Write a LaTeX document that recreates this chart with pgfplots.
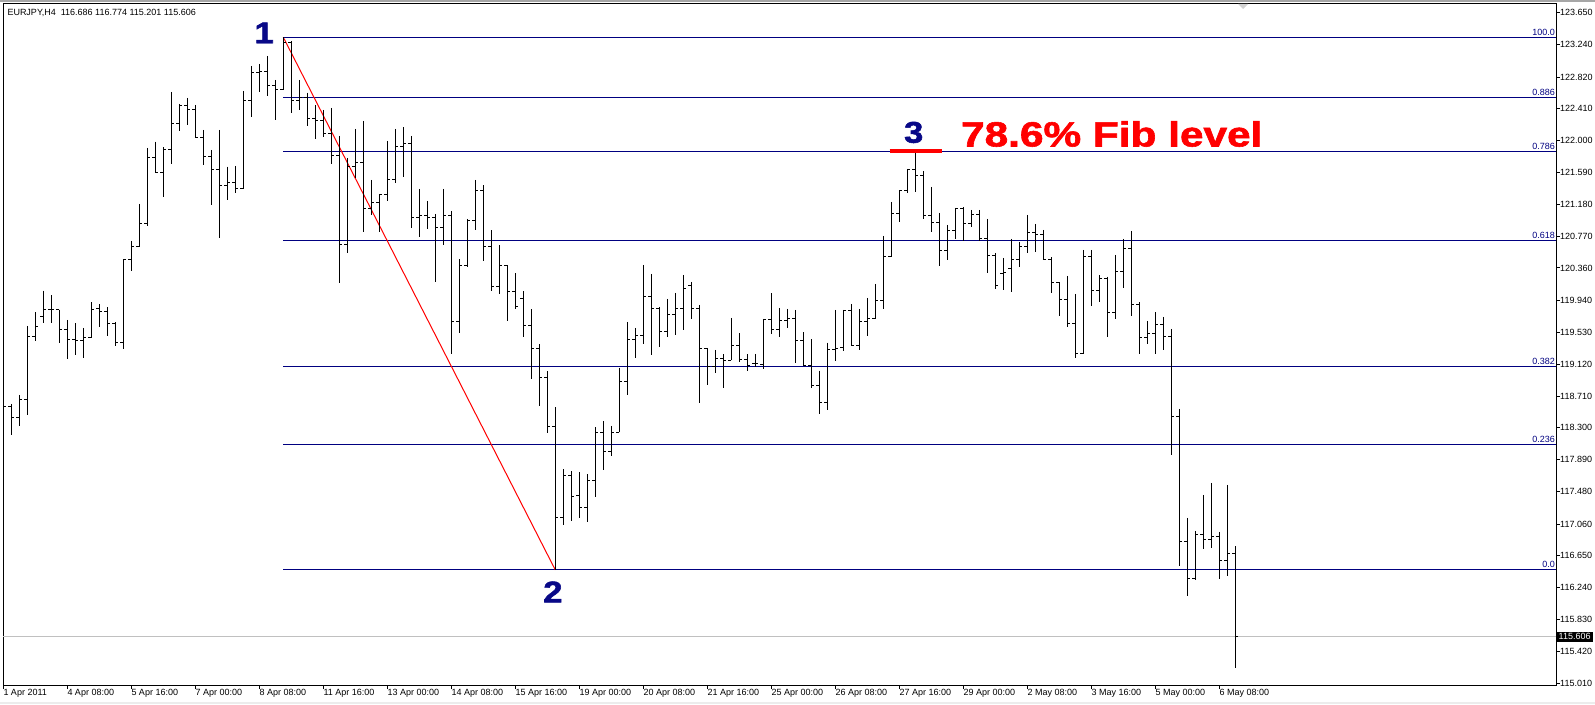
\documentclass[border=0pt]{standalone}
\usepackage{fontspec}
\setmainfont{Liberation Sans}
\newfontfamily\heavyfont{Liberation Sans}[UprightFont={* Bold}, FakeBold=1.6]
\usepackage{graphicx}
\usepackage{pgfplots}
\usepackage{pgfplotstable}
\pgfplotsset{compat=1.18}

\definecolor{fibnavy}{RGB}{0,0,128}
\definecolor{lblnavy}{RGB}{8,8,135}
\definecolor{pricegray}{RGB}{192,192,192}

% EURJPY H4 bars: index, open, high, low, close
\pgfplotstableread{
i o h l c
0 118.315 118.668 118.037 118.573
1 118.573 118.608 118.208 118.436
2 118.436 118.724 118.328 118.668
3 118.668 119.613 118.470 119.471
4 119.471 119.790 119.424 119.604
5 119.733 120.068 119.648 119.819
6 119.819 120.009 119.648 119.819
7 119.819 119.819 119.398 119.561
8 119.561 119.690 119.184 119.442
9 119.442 119.648 119.235 119.424
10 119.424 119.587 119.205 119.458
11 119.458 119.918 119.458 119.828
12 119.841 119.893 119.596 119.802
13 119.802 119.854 119.488 119.639
14 119.648 119.661 119.355 119.403
15 119.403 120.464 119.320 120.464
16 120.464 120.708 120.326 120.635
17 120.635 121.185 120.627 120.936
18 120.936 121.907 120.906 121.787
19 121.787 121.988 121.589 121.589
20 121.589 121.916 121.279 121.881
21 121.881 122.628 121.705 122.216
22 122.216 122.474 122.130 122.448
23 122.448 122.551 122.207 122.406
24 122.406 122.461 122.032 122.045
25 122.045 122.139 121.688 121.791
26 121.791 121.881 121.172 121.632
27 121.632 122.139 120.751 121.421
28 121.421 121.666 121.237 121.465
29 121.465 121.675 121.331 121.382
30 121.382 122.641 121.375 122.522
31 122.522 122.964 122.310 122.882
32 122.882 122.989 122.632 122.895
33 122.895 123.092 122.577 122.715
34 122.715 122.783 122.268 122.663
35 122.663 123.333 122.654 123.269
36 123.269 123.286 122.362 122.512
37 122.512 122.783 122.397 122.555
38 122.555 122.619 122.190 122.284
39 122.284 122.461 122.027 122.255
40 122.255 122.397 122.052 122.096
41 122.096 122.422 121.701 121.813
42 121.813 122.061 120.163 120.666
43 120.666 121.778 120.550 121.662
44 121.662 122.152 121.516 121.723
45 121.723 122.255 120.828 121.130
46 121.130 121.494 121.043 121.207
47 121.207 121.314 120.820 121.301
48 121.301 121.997 121.228 121.503
49 121.503 122.152 121.460 121.924
50 121.924 122.174 121.527 121.967
51 121.967 122.061 120.880 121.014
52 121.014 121.378 120.764 121.040
53 121.040 121.224 120.867 121.014
54 121.014 121.056 120.184 120.885
55 120.885 121.378 120.661 121.040
56 121.040 121.095 119.252 119.665
57 119.665 120.473 119.527 120.395
58 120.395 120.992 120.369 120.966
59 120.966 121.494 120.850 121.353
60 121.353 121.426 120.455 120.640
61 120.640 120.846 120.068 120.125
62 120.125 120.653 120.029 120.395
63 120.395 120.395 119.681 120.060
64 120.060 120.292 119.828 119.867
65 119.970 120.060 119.475 119.622
66 119.622 119.828 118.926 119.326
67 119.326 119.377 118.586 118.952
68 118.952 119.029 118.230 118.320
69 118.320 118.565 116.469 117.139
70 117.139 117.766 117.045 117.689
71 117.689 117.741 117.096 117.418
72 117.431 117.728 117.135 117.268
73 117.268 117.702 117.083 117.616
74 117.616 118.308 117.406 118.234
75 118.234 118.385 117.753 117.996
76 117.996 118.324 117.942 118.243
77 118.243 119.076 118.243 118.895
78 118.895 119.665 118.724 119.442
79 119.442 119.587 119.205 119.493
80 119.493 120.399 119.381 119.987
81 119.987 120.283 119.239 119.841
82 119.841 119.858 119.346 119.545
83 119.545 119.961 119.475 119.764
84 119.764 120.038 119.497 119.832
85 119.832 120.270 119.561 120.099
86 120.138 120.180 119.703 119.841
87 119.841 119.884 118.625 119.326
88 119.326 119.326 118.853 119.094
89 119.094 119.304 119.003 119.197
90 119.197 119.248 118.818 119.171
91 119.171 119.716 119.171 119.364
92 119.364 119.519 119.149 119.184
93 119.184 119.248 119.037 119.107
94 119.123 119.252 119.081 119.132
95 119.119 119.703 119.055 119.690
96 119.690 120.034 119.510 119.570
97 119.570 119.845 119.475 119.686
98 119.686 119.832 119.583 119.712
99 119.712 119.819 119.140 119.429
100 119.429 119.532 119.101 119.107
101 119.107 119.442 118.808 118.840
102 118.840 119.037 118.479 118.630
103 118.630 119.398 118.531 119.304
104 119.313 119.819 119.166 119.320
105 119.333 119.819 119.295 119.806
106 119.806 119.897 119.364 119.364
107 119.364 119.832 119.308 119.665
108 119.665 119.974 119.488 119.707
109 119.707 120.154 119.707 119.944
110 119.944 120.773 119.836 120.502
111 120.502 121.211 120.502 121.065
112 121.065 121.353 120.953 121.353
113 121.353 121.636 121.327 121.623
114 121.623 121.839 121.340 121.546
115 121.546 121.610 120.992 121.031
116 121.031 121.404 120.824 120.940
117 120.940 121.069 120.386 120.580
118 120.580 120.915 120.464 120.837
119 120.837 121.134 120.734 121.121
120 121.121 121.147 120.705 120.936
121 120.936 121.108 120.893 121.052
122 121.052 121.108 120.705 120.734
123 120.734 120.992 120.296 120.515
124 120.515 120.554 120.090 120.128
125 120.292 120.489 120.073 120.296
126 120.348 120.734 120.051 120.473
127 120.473 120.699 120.377 120.635
128 120.635 121.043 120.558 120.820
129 120.820 120.927 120.570 120.786
130 120.786 120.850 120.464 120.473
131 120.473 120.498 120.042 120.176
132 120.176 120.176 119.746 119.957
133 119.957 120.257 119.596 119.648
134 119.648 120.025 119.205 119.256
135 119.256 120.592 119.248 120.511
136 120.511 120.592 119.875 120.073
137 120.073 120.266 119.926 120.228
138 120.228 120.248 119.475 119.790
139 119.790 120.528 119.699 120.309
140 120.309 120.734 120.107 120.614
141 120.614 120.837 119.742 119.893
142 119.893 119.918 119.256 119.467
143 119.467 119.677 119.381 119.519
144 119.519 119.790 119.256 119.635
145 119.635 119.729 119.304 119.480
146 119.480 119.574 117.954 118.449
147 118.449 118.543 116.524 116.839
148 116.839 117.139 116.138 116.357
149 116.357 116.971 116.344 116.920
150 116.920 117.435 116.743 116.864
151 116.864 117.590 116.756 116.903
152 116.903 116.958 116.349 116.585
153 116.585 117.564 116.395 116.686
154 116.686 116.774 115.201 115.606
}\eurjpy

\newcommand{\mtfont}{\fontsize{9}{10}\selectfont}

\begin{document}
\begin{tikzpicture}
\useasboundingbox (0,0) rectangle (1595pt,704pt);
\fill[gray!70] (0,702pt) rectangle (1595pt,704pt);
\fill[gray!15] (0,0) rectangle (1595pt,2pt);
\begin{axis}[
    at={(3pt,19pt)}, anchor=south west,
    scale only axis, width=1553pt, height=681pt,
    xmin=-0.0375, xmax=194.0875,
    ymin=114.986, ymax=123.762,
    axis line style={line width=1pt},
    tick align=outside, major tick length=4pt,
    tick style={black, line width=1pt},
    xtick pos=left, ytick pos=right, yticklabel pos=right,
    xtick={0,8,...,152},
    xticklabels={1 Apr 2011, 4 Apr 08:00, 5 Apr 16:00, 7 Apr 00:00, 8 Apr 08:00,
        11 Apr 16:00, 13 Apr 00:00, 14 Apr 08:00, 15 Apr 16:00, 19 Apr 00:00,
        20 Apr 08:00, 21 Apr 16:00, 25 Apr 00:00, 26 Apr 08:00, 27 Apr 16:00,
        29 Apr 00:00, 2 May 08:00, 3 May 16:00, 5 May 00:00, 6 May 08:00},
    ytick={123.650,123.240,122.820,122.410,122.000,121.590,121.180,120.770,
        120.360,119.940,119.530,119.120,118.710,118.300,117.890,117.480,
        117.060,116.650,116.240,115.830,115.420,115.010},
    tick label style={font=\mtfont},
    /pgf/number format/assume math mode=true,
    xticklabel style={anchor=north west, inner sep=0pt},
    yticklabel style={anchor=west, inner sep=0pt,
        /pgf/number format/fixed, /pgf/number format/fixed zerofill,
        /pgf/number format/precision=3, /pgf/number format/1000 sep={}},
    clip mode=individual,
]
% current price line
\addplot[pricegray, line width=1pt, mark=none] coordinates {(-0.0375,115.606) (194.0875,115.606)};

% fibonacci levels from bar 35 high to bar 69 low
\addplot[fibnavy, line width=1pt, mark=none] coordinates {(35,123.333) (194.0875,123.333)};
\addplot[fibnavy, line width=1pt, mark=none] coordinates {(35,122.551) (194.0875,122.551)};
\addplot[fibnavy, line width=1pt, mark=none] coordinates {(35,121.864) (194.0875,121.864)};
\addplot[fibnavy, line width=1pt, mark=none] coordinates {(35,120.711) (194.0875,120.711)};
\addplot[fibnavy, line width=1pt, mark=none] coordinates {(35,119.091) (194.0875,119.091)};
\addplot[fibnavy, line width=1pt, mark=none] coordinates {(35,118.089) (194.0875,118.089)};
\addplot[fibnavy, line width=1pt, mark=none] coordinates {(35,116.469) (194.0875,116.469)};

% trend line and marker under point 3
\addplot[red, line width=1pt, mark=none] coordinates {(35,123.333) (69,116.469)};
\addplot[red, line width=4pt, mark=none] coordinates {(110.8,121.864) (117.3,121.864)};

% OHLC bars: high-low, open tick, close tick
\addplot[draw=none, mark=none, error bars/.cd, y dir=minus, y explicit, error mark=none,
    error bar style={draw=black, line width=1pt}]
    table[x=i, y=h, y error expr=\thisrow{h}-\thisrow{l}] {\eurjpy};
\addplot[draw=none, mark=none, error bars/.cd, x dir=minus, x fixed=0.375, error mark=none,
    error bar style={draw=black, line width=1pt}]
    table[x=i, y=o] {\eurjpy};
\addplot[draw=none, mark=none, error bars/.cd, x dir=plus, x fixed=0.375, error mark=none,
    error bar style={draw=black, line width=1pt}]
    table[x=i, y=c] {\eurjpy};

% texts
\node[anchor=base west, inner sep=0pt, font=\mtfont] at (axis cs:0.5,123.608)
    {EURJPY,H4\ \ 116.686 116.774 115.201 115.606};
\node[anchor=base east, inner sep=0pt, text=fibnavy, font=\mtfont, xshift=-1pt, yshift=2pt] at (axis cs:194.0875,123.333) {100.0};
\node[anchor=base east, inner sep=0pt, text=fibnavy, font=\mtfont, xshift=-1pt, yshift=2pt] at (axis cs:194.0875,122.551) {0.886};
\node[anchor=base east, inner sep=0pt, text=fibnavy, font=\mtfont, xshift=-1pt, yshift=2pt] at (axis cs:194.0875,121.864) {0.786};
\node[anchor=base east, inner sep=0pt, text=fibnavy, font=\mtfont, xshift=-1pt, yshift=2pt] at (axis cs:194.0875,120.711) {0.618};
\node[anchor=base east, inner sep=0pt, text=fibnavy, font=\mtfont, xshift=-1pt, yshift=2pt] at (axis cs:194.0875,119.091) {0.382};
\node[anchor=base east, inner sep=0pt, text=fibnavy, font=\mtfont, xshift=-1pt, yshift=2pt] at (axis cs:194.0875,118.089) {0.236};
\node[anchor=base east, inner sep=0pt, text=fibnavy, font=\mtfont, xshift=-1pt, yshift=2pt] at (axis cs:194.0875,116.469) {0.0};

\node[inner sep=0pt, text=lblnavy, font=\fontsize{30}{30}\selectfont\heavyfont] at (axis cs:32.6,123.389) {\scalebox{1.15}[1]{1}};
\node[inner sep=0pt, text=lblnavy, font=\fontsize{30}{30}\selectfont\heavyfont] at (axis cs:68.7,116.185) {\scalebox{1.15}[1]{2}};
\node[inner sep=0pt, text=lblnavy, font=\fontsize{30}{30}\selectfont\heavyfont] at (axis cs:113.8,122.107) {\scalebox{1.15}[1]{3}};
\node[anchor=west, inner sep=0pt, text=red, font=\fontsize{35}{35}\selectfont\heavyfont] at (axis cs:119.7,122.087) {\scalebox{1.21}[1]{78.6\% Fib level}};

\node[anchor=west, fill=black, text=white, inner xsep=2pt, inner ysep=2pt, font=\mtfont, xshift=0.5pt] at (axis cs:194.0875,115.606) {115.606};
\end{axis}
\fill[gray!35] (1238pt,700pt) -- (1248pt,700pt) -- (1243pt,695pt) -- cycle;
\end{tikzpicture}
\end{document}
